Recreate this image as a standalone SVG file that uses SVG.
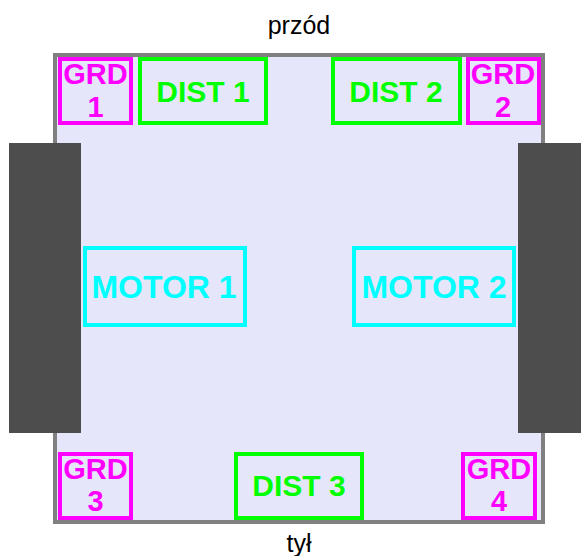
<svg xmlns="http://www.w3.org/2000/svg" width="581" height="556" viewBox="0 0 581 556">
<style>
  .lbl{font-family:"Liberation Sans",Arial,sans-serif;font-weight:bold;text-anchor:middle}
  .cap{font-family:"Liberation Sans",Arial,sans-serif;text-anchor:middle;fill:#000;font-size:25px}
  .grd rect{fill:none;stroke:#ff00ff;stroke-width:4}
  .grd text{fill:#ff00ff;font-size:29px}
  .dist rect{fill:none;stroke:#00ff00;stroke-width:4}
  .dist text{fill:#00ff00;font-size:30px}
  .motor rect{fill:none;stroke:#00ffff;stroke-width:4}
  .motor text{fill:#00ffff;font-size:32px}
  .wheel{fill:#4d4d4d}
</style>
<rect width="581" height="556" fill="#ffffff"/>
<text class="cap" x="299" y="34">przód</text>
<text class="cap" x="299" y="552">tył</text>
<g id="chassis">
  <rect x="55" y="55" width="488" height="467" fill="#e6e6fa" stroke="#808080" stroke-width="4"/>
</g>
<g id="wheel-left"><rect class="wheel" x="9" y="143" width="72" height="290"/></g>
<g id="wheel-right"><rect class="wheel" x="518" y="143" width="72" height="290"/></g>
<g id="grd1" class="grd"><rect x="60" y="59" width="71" height="64"/><text class="lbl" x="95.5" y="83.5">GRD</text><text class="lbl" x="95.5" y="117">1</text></g>
<g id="dist1" class="dist"><rect x="140" y="59" width="126" height="64"/><text class="lbl" x="203" y="102">DIST 1</text></g>
<g id="dist2" class="dist"><rect x="333" y="59" width="127" height="64"/><text class="lbl" x="396" y="102">DIST 2</text></g>
<g id="grd2" class="grd"><rect x="468" y="59" width="71" height="64"/><text class="lbl" x="503" y="83.5">GRD</text><text class="lbl" x="503" y="117">2</text></g>
<g id="motor1" class="motor"><rect x="85" y="248" width="160" height="77"/><text class="lbl" x="164" y="298">MOTOR 1</text></g>
<g id="motor2" class="motor"><rect x="354" y="248" width="160" height="77"/><text class="lbl" x="434" y="297.5">MOTOR 2</text></g>
<g id="grd3" class="grd"><rect x="60" y="454" width="71" height="64"/><text class="lbl" x="95.5" y="479">GRD</text><text class="lbl" x="95.5" y="511">3</text></g>
<g id="dist3" class="dist"><rect x="236" y="454" width="126" height="64"/><text class="lbl" x="299" y="495.5">DIST 3</text></g>
<g id="grd4" class="grd"><rect x="463" y="454" width="72" height="64"/><text class="lbl" x="499" y="479">GRD</text><text class="lbl" x="499" y="511">4</text></g>
<g id="connectors"/>
</svg>
